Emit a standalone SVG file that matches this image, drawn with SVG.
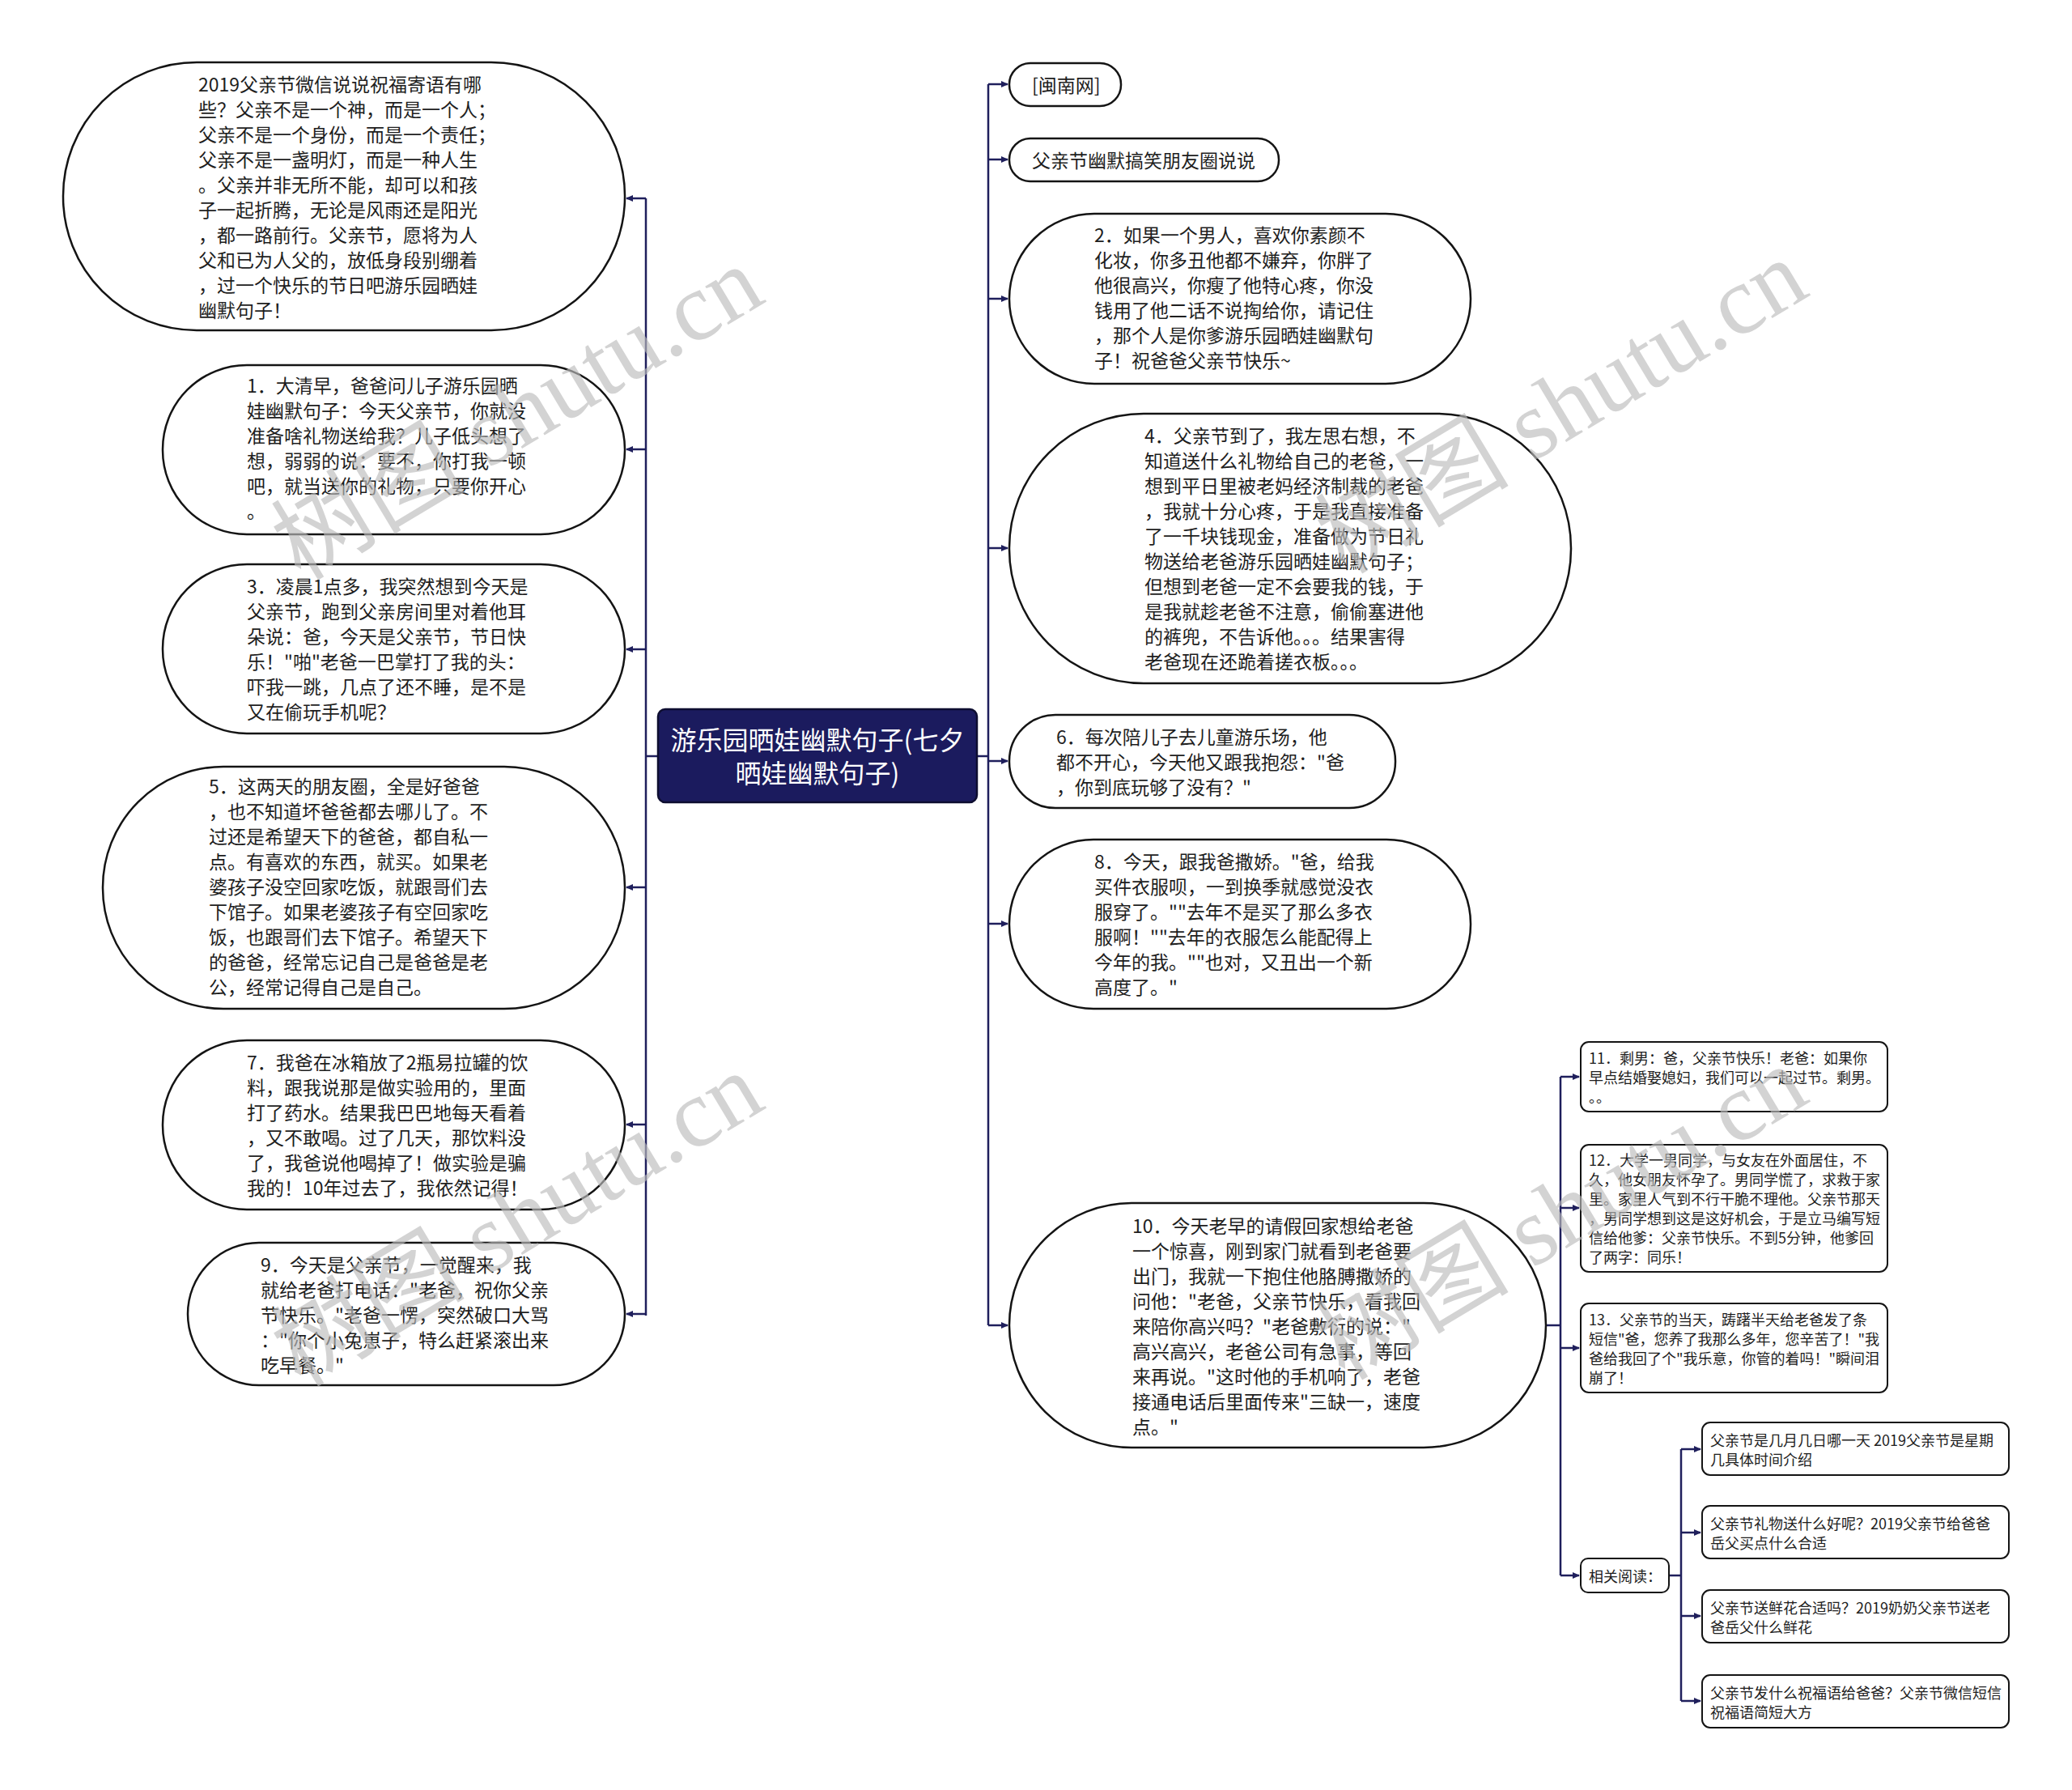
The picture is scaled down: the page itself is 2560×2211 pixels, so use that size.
<svg xmlns="http://www.w3.org/2000/svg" width="2560" height="2211" viewBox="0 0 2560 2211">
<style>
.n{fill:#fff;stroke:#141414;stroke-width:2.5}
.s{fill:#fff;stroke:#141414;stroke-width:2}
.t{font-family:"Noto Sans CJK SC","Noto Sans",sans-serif;font-size:23px;fill:#1e1e1e;dominant-baseline:central}
.ts{font-size:18px}
.c{fill:none;stroke:#1f1f5c;stroke-width:2.5}
.a{fill:none;stroke:#1f1f5c;stroke-width:2.5;marker-end:url(#ar)}
.wm{font-family:"Liberation Serif","Noto Sans CJK SC",serif;font-size:120px;fill:#bcbcbc;opacity:0.65}
</style>
<defs>
<marker id="ar" markerWidth="10" markerHeight="10" refX="8" refY="5" orient="auto" markerUnits="userSpaceOnUse">
<path d="M0,1 L9,5 L0,9 Z" fill="#1f1f5c"/>
</marker>
</defs>
<rect width="2560" height="2211" fill="#fff"/>

<g id="connectors">
<path class="c" d="M813,934 H798 M798,245 V1625"/>
<path class="a" d="M798,245 H774"/>
<path class="a" d="M798,555 H774"/>
<path class="a" d="M798,802 H774"/>
<path class="a" d="M798,1096 H774"/>
<path class="a" d="M798,1389 H774"/>
<path class="a" d="M798,1623 H774"/>
<path class="c" d="M1207,934 H1221 M1221,104 V1637"/>
<path class="a" d="M1221,104 H1245"/>
<path class="a" d="M1221,197 H1245"/>
<path class="a" d="M1221,369 H1245"/>
<path class="a" d="M1221,677 H1245"/>
<path class="a" d="M1221,940 H1245"/>
<path class="a" d="M1221,1141 H1245"/>
<path class="a" d="M1221,1637 H1245"/>
<path class="c" d="M1910,1637 H1928 M1928,1330 V1946"/>
<path class="a" d="M1928,1330 H1951"/>
<path class="a" d="M1928,1492 H1951"/>
<path class="a" d="M1928,1665 H1951"/>
<path class="a" d="M1928,1946 H1951"/>
<path class="c" d="M2062,1946 H2077 M2077,1790 V2101"/>
<path class="a" d="M2077,1790 H2101"/>
<path class="a" d="M2077,1893 H2101"/>
<path class="a" d="M2077,1996 H2101"/>
<path class="a" d="M2077,2101 H2101"/>
</g>

<g id="center">
<rect x="813" y="876" width="394" height="115" rx="9" fill="#1b1b5e" stroke="#0e0e30" stroke-width="2.5"/>
<text class="t" x="1010" y="912" text-anchor="middle" style="font-size:32px;fill:#fff">游乐园晒娃幽默句子(七夕</text>
<text class="t" x="1010" y="953" text-anchor="middle" style="font-size:32px;fill:#fff">晒娃幽默句子)</text>
</g>

<g id="L0">
<rect class="n" x="78" y="77" width="694" height="331" rx="165"/>
<text class="t" x="245" y="103">2019父亲节微信说说祝福寄语有哪</text>
<text class="t" x="245" y="134">些？父亲不是一个神，而是一个人；</text>
<text class="t" x="245" y="165">父亲不是一个身份，而是一个责任；</text>
<text class="t" x="245" y="196">父亲不是一盏明灯，而是一种人生</text>
<text class="t" x="245" y="227">。父亲并非无所不能，却可以和孩</text>
<text class="t" x="245" y="258">子一起折腾，无论是风雨还是阳光</text>
<text class="t" x="245" y="289">，都一路前行。父亲节，愿将为人</text>
<text class="t" x="245" y="320">父和已为人父的，放低身段别绷着</text>
<text class="t" x="245" y="351">，过一个快乐的节日吧游乐园晒娃</text>
<text class="t" x="245" y="382">幽默句子！</text>
</g>

<g id="L1">
<rect class="n" x="201" y="451" width="571" height="209" rx="104"/>
<text class="t" x="305" y="475">1．大清早，爸爸问儿子游乐园晒</text>
<text class="t" x="305" y="506">娃幽默句子：今天父亲节，你就没</text>
<text class="t" x="305" y="537">准备啥礼物送给我？儿子低头想了</text>
<text class="t" x="305" y="568">想，弱弱的说：要不，你打我一顿</text>
<text class="t" x="305" y="599">吧，就当送你的礼物，只要你开心</text>
<text class="t" x="305" y="630">。</text>
</g>

<g id="L3">
<rect class="n" x="201" y="697" width="571" height="209" rx="104"/>
<text class="t" x="305" y="723">3．凌晨1点多，我突然想到今天是</text>
<text class="t" x="305" y="754">父亲节，跑到父亲房间里对着他耳</text>
<text class="t" x="305" y="785">朵说：爸，今天是父亲节，节日快</text>
<text class="t" x="305" y="816">乐！"啪"老爸一巴掌打了我的头：</text>
<text class="t" x="305" y="847">吓我一跳，几点了还不睡，是不是</text>
<text class="t" x="305" y="878">又在偷玩手机呢？</text>
</g>

<g id="L5">
<rect class="n" x="127" y="947" width="645" height="299" rx="149"/>
<text class="t" x="258" y="970">5．这两天的朋友圈，全是好爸爸</text>
<text class="t" x="258" y="1001">，也不知道坏爸爸都去哪儿了。不</text>
<text class="t" x="258" y="1032">过还是希望天下的爸爸，都自私一</text>
<text class="t" x="258" y="1063">点。有喜欢的东西，就买。如果老</text>
<text class="t" x="258" y="1094">婆孩子没空回家吃饭，就跟哥们去</text>
<text class="t" x="258" y="1125">下馆子。如果老婆孩子有空回家吃</text>
<text class="t" x="258" y="1156">饭，也跟哥们去下馆子。希望天下</text>
<text class="t" x="258" y="1187">的爸爸，经常忘记自己是爸爸是老</text>
<text class="t" x="258" y="1218">公，经常记得自己是自己。</text>
</g>

<g id="L7">
<rect class="n" x="201" y="1285" width="571" height="209" rx="104"/>
<text class="t" x="305" y="1311">7．我爸在冰箱放了2瓶易拉罐的饮</text>
<text class="t" x="305" y="1342">料，跟我说那是做实验用的，里面</text>
<text class="t" x="305" y="1373">打了药水。结果我巴巴地每天看着</text>
<text class="t" x="305" y="1404">，又不敢喝。过了几天，那饮料没</text>
<text class="t" x="305" y="1435">了，我爸说他喝掉了！做实验是骗</text>
<text class="t" x="305" y="1466">我的！10年过去了，我依然记得！</text>
</g>

<g id="L9">
<rect class="n" x="232" y="1535" width="540" height="176" rx="88"/>
<text class="t" x="322" y="1561">9．今天是父亲节，一觉醒来，我</text>
<text class="t" x="322" y="1592">就给老爸打电话："老爸，祝你父亲</text>
<text class="t" x="322" y="1623">节快乐。"老爸一愣，突然破口大骂</text>
<text class="t" x="322" y="1654">："你个小兔崽子，特么赶紧滚出来</text>
<text class="t" x="322" y="1685">吃早餐。"</text>
</g>

<g id="R0">
<rect class="n" x="1247" y="78" width="138" height="53" rx="26"/>
<text class="t" x="1275" y="104">[闽南网]</text>
</g>

<g id="R1">
<rect class="n" x="1247" y="171" width="333" height="53" rx="26"/>
<text class="t" x="1275" y="197">父亲节幽默搞笑朋友圈说说</text>
</g>

<g id="R2">
<rect class="n" x="1247" y="264" width="570" height="210" rx="105"/>
<text class="t" x="1352" y="289">2．如果一个男人，喜欢你素颜不</text>
<text class="t" x="1352" y="320">化妆，你多丑他都不嫌弃，你胖了</text>
<text class="t" x="1352" y="351">他很高兴，你瘦了他特心疼，你没</text>
<text class="t" x="1352" y="382">钱用了他二话不说掏给你，请记住</text>
<text class="t" x="1352" y="413">，那个人是你爹游乐园晒娃幽默句</text>
<text class="t" x="1352" y="444">子！祝爸爸父亲节快乐~</text>
</g>

<g id="R4">
<rect class="n" x="1247" y="511" width="694" height="333" rx="166"/>
<text class="t" x="1414" y="537">4．父亲节到了，我左思右想，不</text>
<text class="t" x="1414" y="568">知道送什么礼物给自己的老爸，一</text>
<text class="t" x="1414" y="599">想到平日里被老妈经济制裁的老爸</text>
<text class="t" x="1414" y="630">，我就十分心疼，于是我直接准备</text>
<text class="t" x="1414" y="661">了一千块钱现金，准备做为节日礼</text>
<text class="t" x="1414" y="692">物送给老爸游乐园晒娃幽默句子；</text>
<text class="t" x="1414" y="723">但想到老爸一定不会要我的钱，于</text>
<text class="t" x="1414" y="754">是我就趁老爸不注意，偷偷塞进他</text>
<text class="t" x="1414" y="785">的裤兜，不告诉他。。。结果害得</text>
<text class="t" x="1414" y="816">老爸现在还跪着搓衣板。。。</text>
</g>

<g id="R6">
<rect class="n" x="1247" y="883" width="477" height="115" rx="57"/>
<text class="t" x="1305" y="909">6．每次陪儿子去儿童游乐场，他</text>
<text class="t" x="1305" y="940">都不开心，今天他又跟我抱怨："爸</text>
<text class="t" x="1305" y="971">，你到底玩够了没有？"</text>
</g>

<g id="R8">
<rect class="n" x="1247" y="1037" width="570" height="209" rx="104"/>
<text class="t" x="1352" y="1063">8．今天，跟我爸撒娇。"爸，给我</text>
<text class="t" x="1352" y="1094">买件衣服呗，一到换季就感觉没衣</text>
<text class="t" x="1352" y="1125">服穿了。""去年不是买了那么多衣</text>
<text class="t" x="1352" y="1156">服啊！""去年的衣服怎么能配得上</text>
<text class="t" x="1352" y="1187">今年的我。""也对，又丑出一个新</text>
<text class="t" x="1352" y="1218">高度了。"</text>
</g>

<g id="R10">
<rect class="n" x="1247" y="1486" width="663" height="302" rx="151"/>
<text class="t" x="1399" y="1513">10．今天老早的请假回家想给老爸</text>
<text class="t" x="1399" y="1544">一个惊喜，刚到家门就看到老爸要</text>
<text class="t" x="1399" y="1575">出门，我就一下抱住他胳膊撒娇的</text>
<text class="t" x="1399" y="1606">问他："老爸，父亲节快乐，看我回</text>
<text class="t" x="1399" y="1637">来陪你高兴吗？"老爸敷衍的说："</text>
<text class="t" x="1399" y="1668">高兴高兴，老爸公司有急事，等回</text>
<text class="t" x="1399" y="1699">来再说。"这时他的手机响了，老爸</text>
<text class="t" x="1399" y="1730">接通电话后里面传来"三缺一，速度</text>
<text class="t" x="1399" y="1761">点。"</text>
</g>

<g id="S11">
<rect class="s" x="1953" y="1287" width="379" height="86" rx="10"/>
<text class="t ts" x="1963" y="1306">11．剩男：爸，父亲节快乐！老爸：如果你</text>
<text class="t ts" x="1963" y="1330">早点结婚娶媳妇，我们可以一起过节。剩男。</text>
<text class="t ts" x="1963" y="1354">。。</text>
</g>

<g id="S12">
<rect class="s" x="1953" y="1414" width="379" height="157" rx="10"/>
<text class="t ts" x="1963" y="1432">12．大学一男同学，与女友在外面居住，不</text>
<text class="t ts" x="1963" y="1456">久，他女朋友怀孕了。男同学慌了，求救于家</text>
<text class="t ts" x="1963" y="1480">里。家里人气到不行干脆不理他。父亲节那天</text>
<text class="t ts" x="1963" y="1504">，男同学想到这是这好机会，于是立马编写短</text>
<text class="t ts" x="1963" y="1528">信给他爹：父亲节快乐。不到5分钟，他爹回</text>
<text class="t ts" x="1963" y="1552">了两字：同乐！</text>
</g>

<g id="S13">
<rect class="s" x="1953" y="1610" width="379" height="110" rx="10"/>
<text class="t ts" x="1963" y="1629">13．父亲节的当天，踌躇半天给老爸发了条</text>
<text class="t ts" x="1963" y="1653">短信"爸，您养了我那么多年，您辛苦了！"我</text>
<text class="t ts" x="1963" y="1677">爸给我回了个"我乐意，你管的着吗！"瞬间泪</text>
<text class="t ts" x="1963" y="1701">崩了！</text>
</g>

<g id="S14">
<rect class="s" x="1953" y="1925" width="109" height="42" rx="9"/>
<text class="t ts" x="1963" y="1946">相关阅读：</text>
</g>

<g id="T1">
<rect class="s" x="2103" y="1757" width="379" height="65" rx="10"/>
<text class="t ts" x="2113" y="1778">父亲节是几月几日哪一天 2019父亲节是星期</text>
<text class="t ts" x="2113" y="1802">几具体时间介绍</text>
</g>

<g id="T2">
<rect class="s" x="2103" y="1860" width="379" height="65" rx="10"/>
<text class="t ts" x="2113" y="1881">父亲节礼物送什么好呢？2019父亲节给爸爸</text>
<text class="t ts" x="2113" y="1905">岳父买点什么合适</text>
</g>

<g id="T3">
<rect class="s" x="2103" y="1964" width="379" height="65" rx="10"/>
<text class="t ts" x="2113" y="1985">父亲节送鲜花合适吗？2019奶奶父亲节送老</text>
<text class="t ts" x="2113" y="2009">爸岳父什么鲜花</text>
</g>

<g id="T4">
<rect class="s" x="2103" y="2069" width="379" height="65" rx="10"/>
<text class="t ts" x="2113" y="2090">父亲节发什么祝福语给爸爸？父亲节微信短信</text>
<text class="t ts" x="2113" y="2114">祝福语简短大方</text>
</g>

<g id="watermarks">
<text class="wm" x="660" y="545" text-anchor="middle" transform="rotate(-31 660 545)">树图 shutu.cn</text>
<text class="wm" x="1950" y="537" text-anchor="middle" transform="rotate(-31 1950 537)">树图 shutu.cn</text>
<text class="wm" x="660" y="1541" text-anchor="middle" transform="rotate(-31 660 1541)">树图 shutu.cn</text>
<text class="wm" x="1950" y="1533" text-anchor="middle" transform="rotate(-31 1950 1533)">树图 shutu.cn</text>
</g>
</svg>
